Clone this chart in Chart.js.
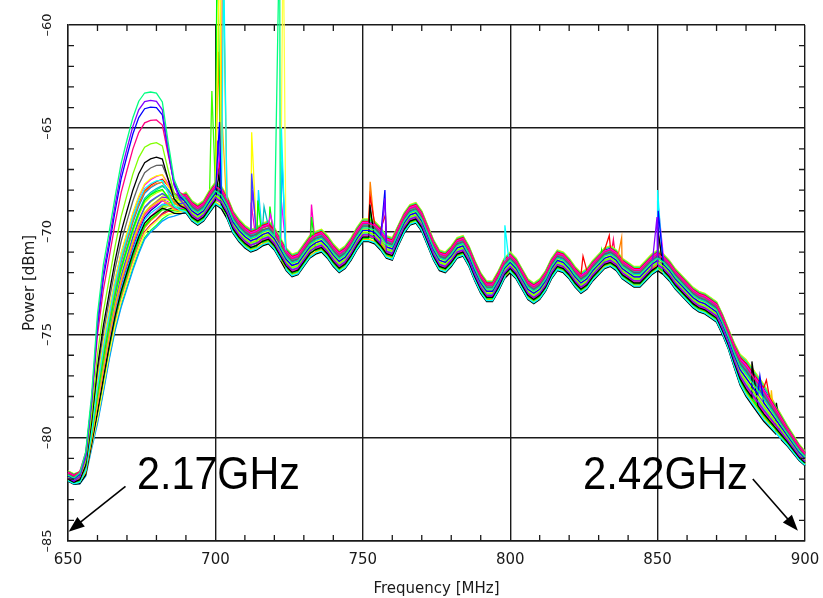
<!DOCTYPE html>
<html>
<head>
<meta charset="utf-8">
<script src="https://cdn.jsdelivr.net/npm/chart.js@4"></script>
<style>
  html, body { margin: 0; padding: 0; background: #ffffff; }
  #grafico { display: block; }
</style>
</head>
<body>
<canvas id="grafico" width="823" height="598"></canvas>
<script>
// frequency grid [MHz]
var freqs = [650,652,654,656,658,660,662,664,666,668,670,672,674,676,678,680,682,684,686,688,
  690,692,694,696,698,700,702,704,706,708,710,712,714,716,718,720,722,724,726,728,
  730,732,734,736,738,740,742,744,746,748,750,752,754,756,758,760,762,764,766,768,
  770,772,774,776,778,780,782,784,786,788,790,792,794,796,798,800,802,804,806,808,
  810,812,814,816,818,820,822,824,826,828,830,832,834,836,838,840,842,844,846,848,
  850,852,854,856,858,860,862,864,866,868,870,872,874,876,878,880,882,884,886,888,
  890,892,894,896,898,900];

// lower edge of the band of traces [dBm]
var lowerEdge = [-82.1,-82.25,-82.25,-81.9,-80.6,-79.4,-77.9,-76.3,-74.9,-73.8,-72.9,-72.0,-71.2,-70.5,-70.15,-69.9,-69.6,-69.4,-69.3,-69.2,
  -69.1,-69.5,-69.7,-69.5,-69.1,-68.7,-68.9,-69.4,-70.1,-70.5,-70.8,-71.0,-70.9,-70.7,-70.6,-70.9,-71.4,-71.9,-72.2,-72.1,
  -71.7,-71.3,-71.1,-71.0,-71.3,-71.7,-72.0,-71.8,-71.4,-70.9,-70.5,-70.5,-70.6,-70.9,-71.3,-71.4,-70.7,-70.1,-69.7,-69.6,
  -70.0,-70.7,-71.4,-71.9,-72.0,-71.7,-71.3,-71.2,-71.7,-72.4,-73.0,-73.4,-73.4,-72.9,-72.3,-72.0,-72.3,-72.8,-73.3,-73.5,
  -73.3,-72.9,-72.3,-71.9,-72.0,-72.3,-72.7,-73.0,-72.8,-72.4,-72.1,-71.8,-71.7,-71.9,-72.3,-72.5,-72.7,-72.7,-72.4,-72.1,
  -71.9,-72.1,-72.4,-72.8,-73.1,-73.4,-73.7,-73.9,-74.0,-74.2,-74.4,-75.0,-75.7,-76.6,-77.45,-78.0,-78.4,-78.8,-79.2,-79.5,
  -79.8,-80.1,-80.4,-80.75,-81.1,-81.35];

// thickness of the band [dB]
var bandWidth = [0.5,0.5,0.6,0.8,0.9,0.9,0.9,0.9,0.9,0.9,0.9,0.9,0.9,0.9,0.9,0.9,0.9,0.9,0.9,0.9,
  1.0,1.0,1.0,1.0,1.1,1.1,1.1,1.1,1.1,1.1,1.1,1.1,1.1,1.1,1.1,1.1,1.1,1.1,1.1,1.1,
  1.1,1.1,1.1,1.1,1.1,1.1,1.1,1.1,1.1,1.1,1.1,1.1,1.1,1.1,1.1,1.1,1.0,1.0,1.0,1.0,
  1.0,1.0,1.0,1.0,1.0,1.0,1.0,1.0,1.0,1.0,1.0,1.0,1.0,1.0,1.0,1.0,1.0,1.0,1.0,1.0,
  1.0,1.0,1.0,1.0,1.0,1.0,1.0,1.0,1.0,1.0,1.0,1.0,1.0,1.0,1.0,1.0,1.0,1.0,1.0,1.0,
  1.0,1.0,1.0,1.0,1.0,1.0,1.0,1.0,1.0,1.0,1.0,1.0,1.0,1.2,1.5,1.8,1.8,1.8,1.8,1.6,
  1.4,1.2,1.0,0.9,0.8,0.7];

// profile of the bump at 655-690 MHz (first points of freqs)
var humpShape = [0,0,0.03,0.12,0.35,0.8,0.95,0.95,1.0,1.08,1.12,1.15,1.15,1.1,1.05,1.0,0.88,0.52,0.21,0.08,0];

// one entry per trace: place inside the band and height of the bump [dB]
var tracePos = [0.6,0.3,0.5,0.8,0.4,0.2,0.7,
  0.05,0.55,0.3,0.85,0.15,0.65,0.9,0.4,0.75,0.1,0.5,0.95,0.25,0.7,0.0,0.6,0.35,0.8,0.2,1.0,
  0.45,0.88,0.12,0.58,0.32,0.78,0.03,0.68,0.42,0.97,0.22,0.52,0.83];
var humpExcess = [6.06,5.93,5.45,4.58,3.84,3.32,2.47,
  2.3,2.1,1.95,1.8,1.7,1.6,1.5,1.4,1.3,1.2,1.12,1.05,0.98,0.9,0.82,0.75,0.68,0.6,0.53,0.46,
  0.4,0.34,0.28,0.22,0.17,0.12,0.08,0.05,0.02,0,0,0,0];

// narrow peaks: [trace, MHz, dBm]
var spikes = [
  [11,700.6,-55],[8,701.5,-55],[9,702.4,-55],[7,702.8,-57],[32,698.8,-63.2],[34,701.0,-61.3],
  [2,701.4,-64.7],[10,701.8,-66.0],[5,701.2,-67.2],[13,701.6,-66.6],[24,700.8,-65.6],[16,702.0,-63.8],
  [25,700.2,-67.5],[31,702.2,-68.0],
  [22,712.3,-65.2],[17,712.3,-67.2],[24,712.5,-68.0],[19,712.1,-68.6],
  [23,714.6,-68.0],[11,714.4,-68.5],[15,716.5,-68.8],[25,718.5,-68.8],[10,718.7,-69.2],
  [0,721.8,-55],[29,723.0,-55],[7,722.4,-65.0],[12,722.6,-66.6],[36,722.2,-68.3],
  [19,732.6,-68.7],[11,732.6,-69.3],
  [34,752.5,-67.6],[13,752.5,-68.3],[5,752.4,-68.7],[11,752.6,-69.0],
  [2,757.5,-68.0],[1,757.5,-68.4],[13,757.7,-69.2],
  [7,798.2,-69.7],
  [13,824.7,-71.2],[11,831.0,-70.9],[13,833.6,-70.2],[31,835.0,-70.4],[9,837.8,-70.3],
  [7,850.0,-68.0],[10,850.0,-68.5],[2,850.2,-69.0],[1,849.8,-69.3],[5,850.0,-69.8],[9,850.3,-70.2],
  [5,882.0,-76.3],[2,884.7,-77.0],[13,886.9,-77.2],[16,888.6,-77.7],[21,890.3,-78.3]
];

var xTicks = [650,700,750,800,850,900];
var yTicks = [-85,-80,-75,-70,-65,-60];

var traceColors = ['#00ff80','#8000ff','#0000ff','#ff0080','#80ff00','#000000','#606060',
  '#00ffff','#ffff00','#ff8000','#ff00ff','#00ff00','#0080ff','#ff0000','#c0ff00','#00c0c0',
  '#ffc000','#4040ff','#00ff80','#ff00c0','#80ff00','#000000','#ffff00','#00e0ff','#a000ff',
  '#00ff00','#c0ff00','#c0ff40','#0000c0','#ffff40','#00ffa0','#ff0060','#40ff00','#00a0ff',
  '#ff8000','#e0ff00','#ff00ff','#00ff40','#303030','#ffe000'];

function buildTrace(t) {
  var pts = [];
  for (var i = 0; i < freqs.length; i++) {
    var y = lowerEdge[i] + tracePos[t] * bandWidth[i];
    if (i < humpShape.length) {
      y += humpExcess[t] * humpShape[i];
    }
    pts.push({x: freqs[i], y: y});
  }
  for (var k = 0; k < spikes.length; k++) {
    if (spikes[k][0] === t) {
      pts.push({x: spikes[k][1], y: spikes[k][2]});
    }
  }
  pts.sort(function (a, b) { return a.x - b.x; });
  return pts;
}

var datasets = [];
for (var t = 0; t < tracePos.length; t++) {
  datasets.push({
    data: buildTrace(t),
    borderColor: traceColors[t],
    borderWidth: 1.3,
    pointRadius: 0,
    tension: 0,
    clip: false
  });
}

var ink = '#1a1a1a';

function arrow(ctx, x1, y1, x2, y2) {
  var a = Math.atan2(y2 - y1, x2 - x1);
  var len = 16, w = 6;
  ctx.beginPath();
  ctx.moveTo(x1, y1);
  ctx.lineTo(x2 - Math.cos(a) * len * 0.8, y2 - Math.sin(a) * len * 0.8);
  ctx.stroke();
  ctx.beginPath();
  ctx.moveTo(x2, y2);
  ctx.lineTo(x2 - Math.cos(a) * len - Math.sin(a) * w, y2 - Math.sin(a) * len + Math.cos(a) * w);
  ctx.lineTo(x2 - Math.cos(a) * len + Math.sin(a) * w, y2 - Math.sin(a) * len - Math.cos(a) * w);
  ctx.closePath();
  ctx.fill();
}

var decorazioni = {
  id: 'decorazioni',
  afterDraw: function (chart) {
    var ctx = chart.ctx;
    var xs = chart.scales.x, ys = chart.scales.y;
    var area = chart.chartArea;
    ctx.save();
    ctx.strokeStyle = ink;
    ctx.fillStyle = ink;
    ctx.lineWidth = 1.3;

    // minor ticks, pointing inside
    ctx.beginPath();
    for (var f = 660; f < 900; f += 10) {
      if (f % 50 === 0) continue;
      var px = xs.getPixelForValue(f);
      ctx.moveTo(px, area.bottom); ctx.lineTo(px, area.bottom - 6);
      ctx.moveTo(px, area.top); ctx.lineTo(px, area.top + 6);
    }
    for (var v = -84; v < -60; v++) {
      if (v % 5 === 0) continue;
      var py = ys.getPixelForValue(v);
      ctx.moveTo(area.left, py); ctx.lineTo(area.left + 6, py);
      ctx.moveTo(area.right, py); ctx.lineTo(area.right - 6, py);
    }
    ctx.stroke();

    // y tick labels, rotated
    ctx.font = '13px "DejaVu Sans"';
    ctx.textAlign = 'center';
    ctx.textBaseline = 'middle';
    for (var i = 0; i < yTicks.length; i++) {
      ctx.save();
      ctx.translate(area.left - 20, ys.getPixelForValue(yTicks[i]));
      ctx.rotate(-Math.PI / 2);
      ctx.fillText('\u2013' + Math.abs(yTicks[i]), 0, 0);
      ctx.restore();
    }

    // axis titles
    ctx.font = '15px "DejaVu Sans"';
    ctx.save();
    ctx.translate(30, (area.top + area.bottom) / 2);
    ctx.rotate(-Math.PI / 2);
    ctx.fillText('Power [dBm]', 0, 0);
    ctx.restore();
    ctx.textBaseline = 'alphabetic';
    ctx.fillText('Frequency [MHz]', (area.left + area.right) / 2, 593);

    // band annotations
    ctx.font = '46px "Liberation Sans"';
    ctx.textAlign = 'left';
    ctx.fillStyle = '#000000';
    ctx.fillText('2.17GHz', xs.getPixelForValue(673.4), ys.getPixelForValue(-82.49), 163);
    ctx.fillText('2.42GHz', xs.getPixelForValue(824.7), ys.getPixelForValue(-82.49), 165);
    ctx.strokeStyle = '#000000';
    ctx.lineWidth = 1.6;
    arrow(ctx, xs.getPixelForValue(669.5), ys.getPixelForValue(-82.35),
      xs.getPixelForValue(650.2), ys.getPixelForValue(-84.55));
    arrow(ctx, xs.getPixelForValue(882.3), ys.getPixelForValue(-82.0),
      xs.getPixelForValue(897.6), ys.getPixelForValue(-84.5));
    ctx.restore();
  }
};

var chart = new Chart(document.getElementById('grafico'), {
  type: 'line',
  data: { datasets: datasets },
  options: {
    responsive: false,
    animation: false,
    events: [],
    layout: { padding: { left: 0, right: 18, top: 25, bottom: 0 } },
    plugins: { legend: { display: false }, tooltip: { enabled: false } },
    scales: {
      x: {
        type: 'linear',
        min: 650,
        max: 900,
        afterBuildTicks: function (scale) {
          scale.ticks = xTicks.map(function (v) { return {value: v}; });
        },
        afterFit: function (scale) {
          scale.height = 57;
          scale.paddingLeft = 0;
          scale.paddingRight = 0;
        },
        grid: { color: ink, lineWidth: 1.4, drawTicks: false },
        border: { color: ink, width: 1.4 },
        ticks: {
          color: ink,
          font: { family: 'DejaVu Sans', size: 15 },
          padding: 10,
          maxRotation: 0
        }
      },
      y: {
        type: 'linear',
        min: -85,
        max: -60,
        afterBuildTicks: function (scale) {
          scale.ticks = yTicks.map(function (v) { return {value: v}; });
        },
        afterFit: function (scale) { scale.width = 68; },
        grid: { color: ink, lineWidth: 1.4, drawTicks: false },
        border: { color: ink, width: 1.4 },
        ticks: { display: false }
      }
    }
  },
  plugins: [decorazioni]
});
</script>
</body>
</html>
